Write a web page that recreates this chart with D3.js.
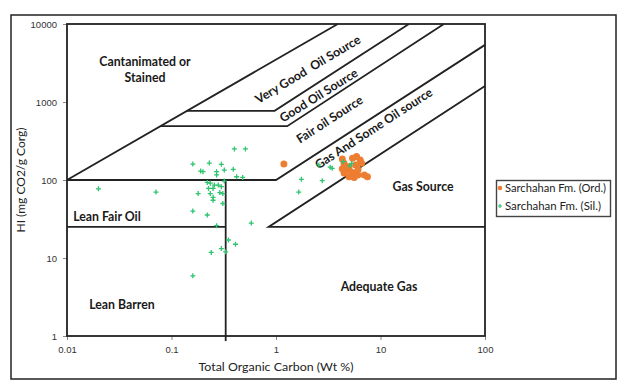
<!DOCTYPE html>
<html>
<head>
<meta charset="utf-8">
<script src="https://cdn.jsdelivr.net/npm/d3@7"></script>
<style>
  body { margin: 0; background: #fff; }
  svg { display: block; font-family: Lato, "Open Sans", sans-serif; }
  .region { font-weight: bold; font-size: 12.3px; fill: #1a1a1a; white-space: pre; }
  .tick text { font-size: 9.5px; fill: #333; }
  .tick line { stroke: #888; }
</style>
</head>
<body>
<div id="chart"></div>
<script>
// TOC (wt %) and HI values
const ordPoints = [
  [1.19, 160], [4.31, 186], [4.48, 164], [4.31, 139], [4.66, 135], [4.48, 123],
  [5.0, 110], [5.6, 108], [6.07, 116], [5.4, 190], [5.9, 200], [6.4, 181],
  [6.6, 164], [5.8, 156], [6.1, 135], [7.0, 116], [7.5, 110], [5.0, 148],
  [5.4, 123], [4.6, 150], [5.2, 128]
];

const silPoints = [
  [0.02, 77], [0.071, 70], [0.16, 160], [0.23, 165], [0.30, 159], [0.19, 130],
  [0.20, 128], [0.27, 128], [0.27, 116], [0.32, 134], [0.39, 137], [0.42, 110],
  [0.48, 108], [0.40, 250], [0.51, 250], [0.22, 93], [0.235, 91], [0.257, 86],
  [0.28, 86], [0.226, 78], [0.25, 78], [0.30, 82], [0.18, 67], [0.235, 67],
  [0.29, 69], [0.31, 67], [0.25, 60], [0.25, 55], [0.31, 50], [0.16, 40],
  [0.22, 35.6], [0.27, 26], [0.58, 28], [0.35, 17], [0.41, 15], [0.24, 11.8],
  [0.30, 13.2], [0.33, 12], [0.16, 5.9], [0.32, 97],
  [1.65, 70], [1.75, 102], [2.77, 98], [2.57, 156], [3.3, 146], [3.45, 141],
  [4.4, 172], [5.1, 152], [5.3, 163]
];

// field boundaries, [TOC, HI] polylines
const boundaries = [
  [[0.01, 100], [3.9, 10000]],
  [[0.14, 770], [0.97, 770], [18.7, 10000]],
  [[0.078, 490], [1.28, 490], [40.4, 10000]],
  [[0.01, 100], [1, 100], [100, 5400]],
  [[0.01, 25], [0.33, 25]],
  [[0.33, 100], [0.33, 0.86]],
  [[100, 1600], [0.85, 25], [100, 25]]
];

const xTicks = [0.01, 0.1, 1, 10, 100];
const yTicks = [1, 10, 100, 1000, 10000];

const seriesNames = ["Sarchahan Fm. (Ord.)", "Sarchahan Fm. (Sil.)"];
const orange = "#ed7d31";
const green = "#2fc46f";

const width = 618;
const height = 381;

const svg = d3.select("#chart")
    .append("svg")
    .attr("width", width)
    .attr("height", height);

// outer frame
svg.append("rect")
    .attr("x", 11).attr("y", 15)
    .attr("width", 605).attr("height", 364)
    .attr("fill", "none")
    .attr("stroke", "#222")
    .attr("stroke-width", 1.5);

const x = d3.scaleLog().domain([0.01, 100]).range([67, 485]);
const y = d3.scaleLog().domain([1, 10000]).range([336, 24]);

// axes
const xAxis = svg.append("g")
    .attr("transform", `translate(0,${y(1)})`)
    .call(d3.axisBottom(x).tickValues(xTicks).tickSize(4).tickPadding(6)
        .tickFormat(d => String(d)));
xAxis.select(".domain").remove();

const yAxis = svg.append("g")
    .attr("transform", `translate(${x(0.01)},0)`)
    .call(d3.axisLeft(y).tickValues(yTicks).tickSize(4).tickPadding(6)
        .tickFormat(d => String(d)));
yAxis.select(".domain").remove();

// plot box
svg.append("rect")
    .attr("x", x(0.01)).attr("y", y(10000))
    .attr("width", x(100) - x(0.01))
    .attr("height", y(1) - y(10000))
    .attr("fill", "none")
    .attr("stroke", "#222")
    .attr("stroke-width", 1.8);

const line = d3.line().x(d => x(d[0])).y(d => y(d[1]));

svg.selectAll("path.bound")
    .data(boundaries)
    .enter()
    .append("path")
    .attr("class", "bound")
    .attr("d", line)
    .attr("fill", "none")
    .attr("stroke", "#222")
    .attr("stroke-width", 1.8);

// region labels
const flatLabels = [
  { t: "Cantanimated or", x: 145, y: 66 },
  { t: "Stained", x: 145, y: 82 },
  { t: "Gas Source", x: 423, y: 191 },
  { t: "Lean Fair Oil", x: 107, y: 221 },
  { t: "Adequate Gas", x: 379, y: 291 },
  { t: "Lean Barren", x: 122, y: 309 }
];
svg.selectAll("text.flat")
    .data(flatLabels)
    .enter()
    .append("text")
    .attr("class", "region flat")
    .attr("x", d => d.x).attr("y", d => d.y)
    .attr("text-anchor", "middle")
    .text(d => d.t);

const slantLabels = [
  { t: "Very Good  Oil Source", x: 310, y: 73, a: -31 },
  { t: "Good Oil Source", x: 321, y: 99, a: -32 },
  { t: "Fair oil Source", x: 332, y: 123, a: -33 },
  { t: "Gas And Some Oil source", x: 376, y: 132, a: -33 }
];
svg.selectAll("text.slant")
    .data(slantLabels)
    .enter()
    .append("text")
    .attr("class", "region slant")
    .attr("text-anchor", "middle")
    .attr("transform", d => `translate(${d.x},${d.y}) rotate(${d.a})`)
    .text(d => d.t);

// data points
svg.selectAll("circle.ord")
    .data(ordPoints)
    .enter()
    .append("circle")
    .attr("class", "ord")
    .attr("cx", d => x(d[0]))
    .attr("cy", d => y(d[1]))
    .attr("r", 3.5)
    .attr("fill", orange);

svg.selectAll("path.sil")
    .data(silPoints)
    .enter()
    .append("path")
    .attr("class", "sil")
    .attr("d", "M-2.5,0H2.5M0,-2.5V2.5")
    .attr("transform", d => `translate(${x(d[0])},${y(d[1])})`)
    .attr("stroke", green)
    .attr("stroke-width", 1.3)
    .attr("fill", "none");

// axis titles
svg.append("text")
    .attr("x", 276).attr("y", 371)
    .attr("text-anchor", "middle")
    .attr("font-size", "11.5px")
    .attr("fill", "#222")
    .attr("textLength", 155)
    .attr("lengthAdjust", "spacingAndGlyphs")
    .text("Total Organic Carbon (Wt %)");

svg.append("text")
    .attr("transform", "translate(25,180) rotate(-90)")
    .attr("text-anchor", "middle")
    .attr("font-size", "11px")
    .attr("fill", "#222")
    .attr("textLength", 105)
    .attr("lengthAdjust", "spacingAndGlyphs")
    .text("HI (mg CO2/g Corg)");

// legend
const legend = svg.append("g");
legend.append("rect")
    .attr("x", 496.5).attr("y", 180.5)
    .attr("width", 114).attr("height", 36)
    .attr("fill", "#fff")
    .attr("stroke", "#444")
    .attr("stroke-width", 1.4);

legend.append("circle")
    .attr("cx", 500).attr("cy", 188)
    .attr("r", 2.3)
    .attr("fill", orange);
legend.append("path")
    .attr("d", "M-2,0H2M0,-2V2")
    .attr("transform", "translate(500,206)")
    .attr("stroke", green)
    .attr("stroke-width", 1.2);

legend.selectAll("text")
    .data(seriesNames)
    .enter()
    .append("text")
    .attr("x", 505)
    .attr("y", (d, i) => 191.5 + i * 18)
    .attr("font-size", "10.5px")
    .attr("fill", "#222")
    .attr("textLength", (d, i) => i === 0 ? 101 : 96)
    .attr("lengthAdjust", "spacingAndGlyphs")
    .text(d => d);
</script>
</body>
</html>
